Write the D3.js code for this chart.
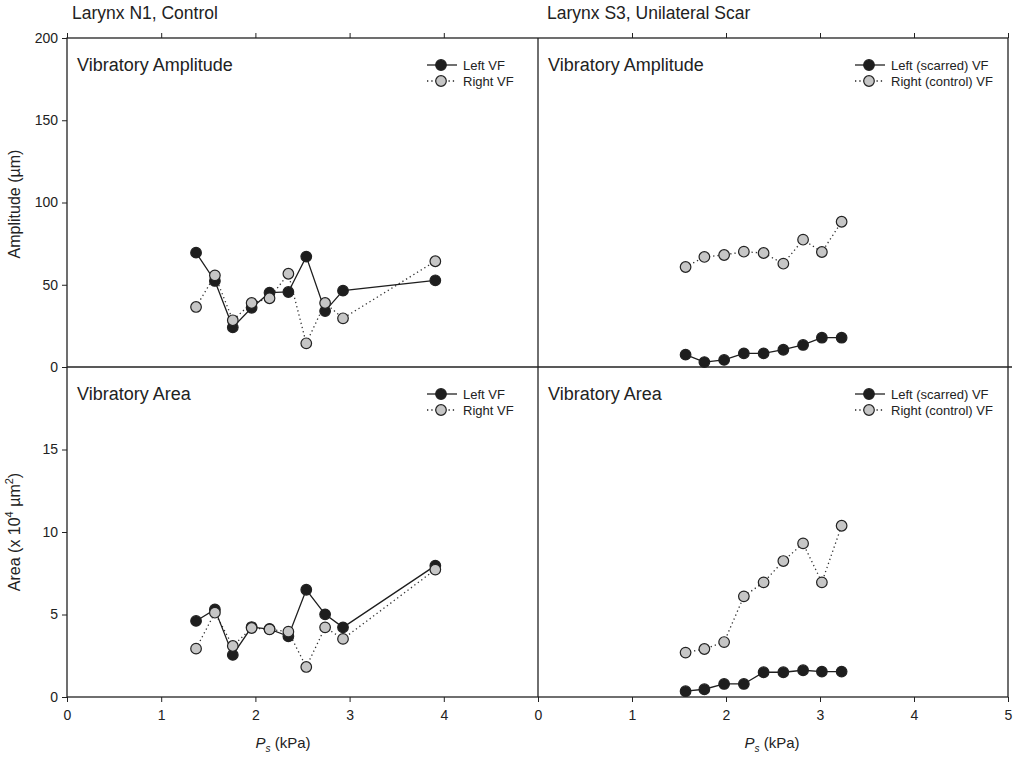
<!DOCTYPE html>
<html>
<head>
<meta charset="utf-8">
<script src="https://cdn.jsdelivr.net/npm/d3@7"></script>
<style>
  body { margin: 0; background: #fff; }
  svg text { font-family: "Liberation Sans", Arial, sans-serif; fill: #222; }
</style>
</head>
<body>
<svg id="chart" width="1020" height="759"></svg>
<script>
// Larynx vibration -- amplitude and area vs subglottal pressure

// N1 control larynx
var n1Ps = [1.37, 1.57, 1.76, 1.96, 2.15, 2.35, 2.54, 2.74, 2.93, 3.91];
var n1AmpLeft = [69.5, 52.3, 24.1, 36.0, 45.2, 45.6, 67.1, 34.0, 46.4, 52.7];
var n1AmpRight = [36.5, 55.7, 28.4, 38.9, 41.8, 56.7, 14.4, 38.9, 29.6, 64.3];
var n1AreaLeft = [4.61, 5.31, 2.55, 4.24, 4.12, 3.68, 6.50, 5.01, 4.22, 7.96];
var n1AreaRight = [2.93, 5.11, 3.09, 4.18, 4.10, 3.96, 1.82, 4.22, 3.52, 7.72];

// S3 unilateral scar larynx
var s3Ps = [1.57, 1.77, 1.98, 2.19, 2.40, 2.61, 2.82, 3.02, 3.23];
var s3AmpLeft = [7.5, 3.0, 4.3, 8.3, 8.3, 10.5, 13.4, 17.8, 17.8];
var s3AmpRight = [60.8, 66.9, 68.1, 70.1, 69.3, 62.8, 77.4, 69.9, 88.3];
var s3AreaLeft = [0.35, 0.47, 0.79, 0.79, 1.50, 1.50, 1.62, 1.54, 1.54];
var s3AreaRight = [2.69, 2.91, 3.33, 6.10, 6.95, 8.24, 9.31, 6.95, 10.38];

var xTicksLeft = [0, 1, 2, 3, 4];
var xTicksRight = [0, 1, 2, 3, 4, 5];
var ampTicks = [0, 50, 100, 150, 200];
var areaTicks = [0, 5, 10, 15];

var svg = d3.select("#chart");

var xLeft = d3.scaleLinear().domain([0, 5]).range([67, 538]);
var xRight = d3.scaleLinear().domain([0, 5]).range([538, 1008]);
var yAmp = d3.scaleLinear().domain([0, 200]).range([367, 38]);
var yArea = d3.scaleLinear().domain([0, 20]).range([697, 367]);

///////////////////////////////////////////////////////////////////////////////
// axes

var intFmt = d3.format("d");

var styleAxis = function (g) {
  g.select(".domain").remove();
  g.selectAll("line").attr("stroke", "#222").attr("stroke-width", 1);
  g.selectAll("text").style("font-size", "14px").attr("fill", "#222");
};

svg.append("g").attr("transform", "translate(0,697)")
  .call(d3.axisBottom(xLeft).tickValues(xTicksLeft).tickFormat(intFmt).tickSize(5).tickPadding(8))
  .call(styleAxis);
svg.append("g").attr("transform", "translate(0,697)")
  .call(d3.axisBottom(xRight).tickValues(xTicksRight).tickFormat(intFmt).tickSize(5).tickPadding(8))
  .call(styleAxis);

// top edge ticks, no labels
svg.append("g").attr("transform", "translate(0,38)")
  .call(d3.axisTop(xLeft).tickValues([0, 1, 2, 3, 4]).tickSize(5).tickFormat(""))
  .call(styleAxis);
svg.append("g").attr("transform", "translate(0,38)")
  .call(d3.axisTop(xRight).tickValues([1, 2, 3, 4, 5]).tickSize(5).tickFormat(""))
  .call(styleAxis);

svg.append("g").attr("transform", "translate(67,0)")
  .call(d3.axisLeft(yAmp).tickValues(ampTicks).tickFormat(intFmt).tickSize(5).tickPadding(4))
  .call(styleAxis);
svg.append("g").attr("transform", "translate(67,0)")
  .call(d3.axisLeft(yArea).tickValues(areaTicks).tickFormat(intFmt).tickSize(5).tickPadding(4))
  .call(styleAxis);

// frame and dividers
var frame = svg.append("g").attr("stroke", "#222").attr("stroke-width", 1.3).attr("fill", "none");
frame.append("rect").attr("x", 67).attr("y", 38).attr("width", 1008 - 67).attr("height", 697 - 38);
frame.append("line").attr("x1", 538).attr("x2", 538).attr("y1", 38).attr("y2", 697);
frame.append("line").attr("x1", 67).attr("x2", 1012).attr("y1", 367).attr("y2", 367);

///////////////////////////////////////////////////////////////////////////////
// titles and labels

svg.append("text").attr("x", 72).attr("y", 19).style("font-size", "17.5px").text("Larynx N1, Control");
svg.append("text").attr("x", 547).attr("y", 19).style("font-size", "17.5px").text("Larynx S3, Unilateral Scar");

svg.append("text").attr("transform", "translate(20,204) rotate(-90)")
  .attr("text-anchor", "middle").style("font-size", "16px").text("Amplitude (µm)");

var areaLabel = svg.append("text").attr("transform", "translate(20,532) rotate(-90)")
  .attr("text-anchor", "middle").style("font-size", "16px");
areaLabel.append("tspan").text("Area (x 10");
areaLabel.append("tspan").attr("dy", -7).style("font-size", "11px").text("4");
areaLabel.append("tspan").attr("dy", 7).text(" µm");
areaLabel.append("tspan").attr("dy", -7).style("font-size", "11px").text("2");
areaLabel.append("tspan").attr("dy", 7).text(")");

[283, 772].forEach(function (cx) {
  var t = svg.append("text").attr("x", cx).attr("y", 748)
    .attr("text-anchor", "middle").style("font-size", "15px");
  t.append("tspan").style("font-style", "italic").text("P");
  t.append("tspan").attr("dy", 4).style("font-size", "10px").style("font-style", "italic").text("s");
  t.append("tspan").attr("dy", -4).text(" (kPa)");
});

///////////////////////////////////////////////////////////////////////////////
// panels

var LEFT_FILL = "#1e1e1e";
var RIGHT_FILL = "#c6c6c6";

var drawPanel = function (opts) {
  var g = svg.append("g");
  var pts = function (ys) {
    return opts.xs.map(function (x, i) { return [x, ys[i]]; });
  };
  var line = d3.line()
    .x(function (d) { return opts.x(d[0]); })
    .y(function (d) { return opts.y(d[1]); });

  // right (dotted) first, then left (solid) on top
  g.append("path").datum(pts(opts.right))
    .attr("d", line).attr("fill", "none")
    .attr("stroke", "#333").attr("stroke-width", 1.3).attr("stroke-dasharray", "1.3,3");
  g.append("path").datum(pts(opts.left))
    .attr("d", line).attr("fill", "none")
    .attr("stroke", "#1e1e1e").attr("stroke-width", 1.3);

  [["left", LEFT_FILL], ["right", RIGHT_FILL]].forEach(function (o) {
    g.selectAll(null).data(pts(opts[o[0]])).enter().append("circle")
      .attr("cx", function (d) { return opts.x(d[0]); })
      .attr("cy", function (d) { return opts.y(d[1]); })
      .attr("r", 5.3)
      .attr("fill", o[1]).attr("stroke", "#222").attr("stroke-width", 1.2);
  });

  // subtitle
  svg.append("text").attr("x", opts.titleX).attr("y", opts.top + 33)
    .style("font-size", "18px").text(opts.title);

  // legend
  var lx = opts.legendX, rows = opts.legend;
  [[rows[0], LEFT_FILL, null], [rows[1], RIGHT_FILL, "1.3,3"]].forEach(function (r, i) {
    var ly = opts.top + 27 + i * 16;
    g.append("line").attr("x1", lx).attr("x2", lx + 30).attr("y1", ly).attr("y2", ly)
      .attr("stroke", "#222").attr("stroke-width", 1.3)
      .attr("stroke-dasharray", r[2]);
    g.append("circle").attr("cx", lx + 14).attr("cy", ly).attr("r", 5.3)
      .attr("fill", r[1]).attr("stroke", "#222").attr("stroke-width", 1.2);
    g.append("text").attr("x", lx + 36).attr("y", ly + 4.5)
      .style("font-size", "13px").text(r[0]);
  });
};

drawPanel({ x: xLeft, y: yAmp, xs: n1Ps, left: n1AmpLeft, right: n1AmpRight,
  top: 38, titleX: 77, title: "Vibratory Amplitude", legendX: 427, legend: ["Left VF", "Right VF"] });
drawPanel({ x: xRight, y: yAmp, xs: s3Ps, left: s3AmpLeft, right: s3AmpRight,
  top: 38, titleX: 548, title: "Vibratory Amplitude", legendX: 855, legend: ["Left (scarred) VF", "Right (control) VF"] });
drawPanel({ x: xLeft, y: yArea, xs: n1Ps, left: n1AreaLeft, right: n1AreaRight,
  top: 367, titleX: 77, title: "Vibratory Area", legendX: 427, legend: ["Left VF", "Right VF"] });
drawPanel({ x: xRight, y: yArea, xs: s3Ps, left: s3AreaLeft, right: s3AreaRight,
  top: 367, titleX: 548, title: "Vibratory Area", legendX: 855, legend: ["Left (scarred) VF", "Right (control) VF"] });
</script>
</body>
</html>
